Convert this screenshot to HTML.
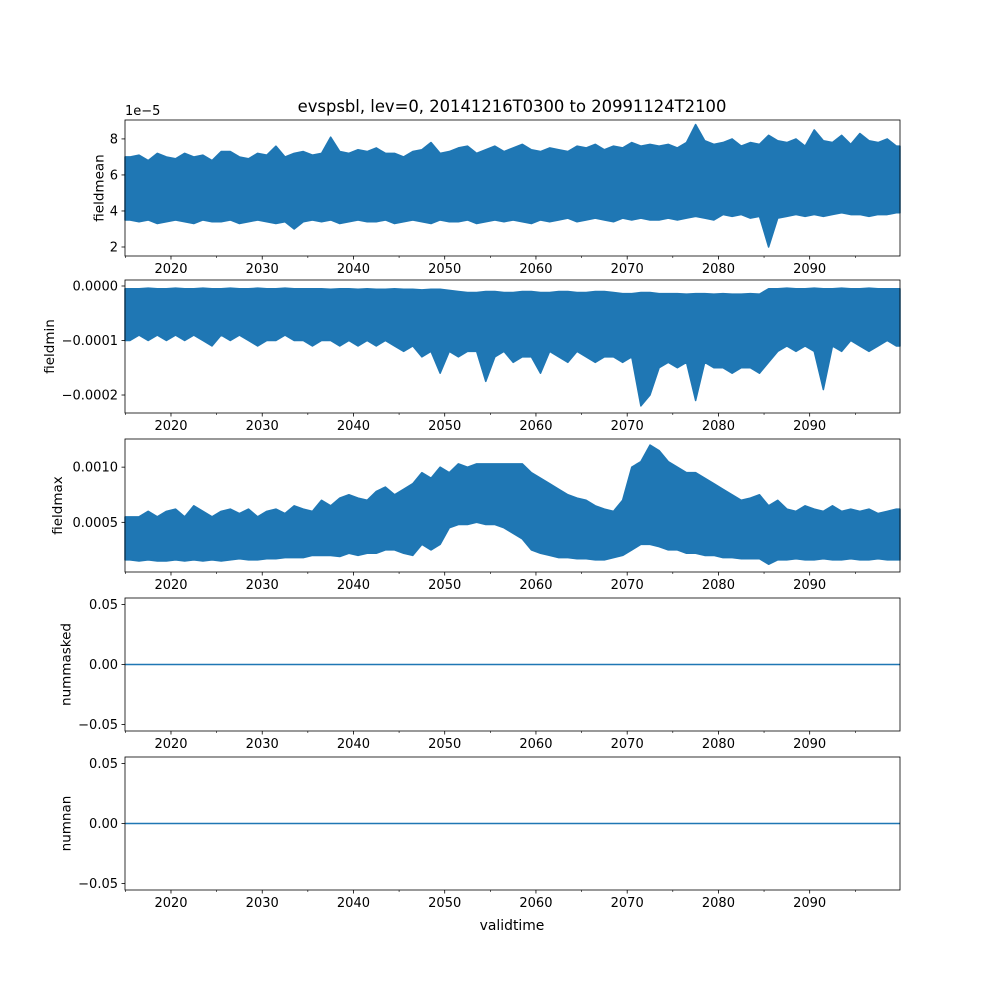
<!DOCTYPE html>
<html><head><meta charset="utf-8"><style>
html,body{margin:0;padding:0;background:#fff}
svg{display:block;font-family:"DejaVu Sans","Liberation Sans",sans-serif}
</style></head><body>
<svg id="fig" width="1000" height="1000" viewBox="0 0 1000 1000" xmlns="http://www.w3.org/2000/svg">
<rect width="1000" height="1000" fill="#fff"/>
<text x="512" y="112" text-anchor="middle" font-size="16.4">evspsbl, lev=0, 20141216T0300 to 20991124T2100</text>
<text x="512" y="930" text-anchor="middle" font-size="13.9">validtime</text>
</svg>
<script>
// years 2015..2099 (85 per-year bins)
const years = Array.from({length:85},(_,i)=>2015+i);
// fieldmean (x1e-5) upper / lower envelope
const meanHi = [7.0,7.1,6.8,7.2,7.0,6.9,7.2,7.0,7.1,6.8,
 7.3,7.3,7.0,6.9,7.2,7.1,7.6,7.0,7.2,7.3,
 7.1,7.2,8.1,7.3,7.2,7.4,7.3,7.5,7.2,7.2,
 7.0,7.3,7.4,7.8,7.2,7.3,7.5,7.6,7.2,7.4,
 7.6,7.3,7.5,7.7,7.4,7.3,7.5,7.4,7.3,7.6,
 7.5,7.7,7.4,7.6,7.5,7.8,7.6,7.7,7.6,7.7,
 7.5,7.8,8.8,7.9,7.7,7.8,8.0,7.6,7.8,7.7,
 8.2,7.9,7.8,8.0,7.6,8.5,7.9,7.8,8.2,7.7,
 8.3,7.9,7.8,8.0,7.6];
const meanLo = [3.5,3.4,3.5,3.3,3.4,3.5,3.4,3.3,3.5,3.4,
 3.4,3.5,3.3,3.4,3.5,3.4,3.3,3.4,3.0,3.4,
 3.5,3.4,3.5,3.3,3.4,3.5,3.4,3.4,3.5,3.3,
 3.4,3.5,3.4,3.3,3.5,3.4,3.4,3.5,3.3,3.4,
 3.5,3.4,3.5,3.4,3.3,3.5,3.4,3.5,3.6,3.4,
 3.5,3.6,3.5,3.4,3.6,3.5,3.6,3.5,3.5,3.6,
 3.5,3.6,3.7,3.6,3.5,3.8,3.7,3.8,3.6,3.7,
 2.0,3.6,3.7,3.8,3.7,3.8,3.7,3.8,3.9,3.8,
 3.8,3.7,3.8,3.8,3.9];
// fieldmin (x1e-4)
const minHi = [-0.05,-0.05,-0.04,-0.05,-0.05,-0.04,-0.05,-0.05,-0.04,-0.05,
 -0.05,-0.04,-0.05,-0.05,-0.04,-0.05,-0.05,-0.04,-0.05,-0.05,
 -0.05,-0.05,-0.06,-0.05,-0.05,-0.06,-0.05,-0.06,-0.06,-0.05,
 -0.06,-0.06,-0.07,-0.06,-0.06,-0.08,-0.10,-0.12,-0.12,-0.10,
 -0.10,-0.12,-0.12,-0.10,-0.10,-0.12,-0.12,-0.10,-0.10,-0.12,
 -0.12,-0.10,-0.10,-0.12,-0.14,-0.14,-0.12,-0.12,-0.14,-0.14,
 -0.14,-0.15,-0.14,-0.14,-0.15,-0.14,-0.15,-0.15,-0.14,-0.15,
 -0.05,-0.05,-0.04,-0.05,-0.05,-0.04,-0.05,-0.05,-0.04,-0.05,
 -0.05,-0.04,-0.05,-0.05,-0.05];
const minLo = [-1.0,-0.9,-1.0,-0.9,-1.0,-0.9,-1.0,-0.9,-1.0,-1.1,
 -0.9,-1.0,-0.9,-1.0,-1.1,-1.0,-1.0,-0.9,-1.0,-1.0,
 -1.1,-1.0,-1.0,-1.1,-1.0,-1.1,-1.0,-1.1,-1.0,-1.1,
 -1.2,-1.1,-1.3,-1.2,-1.6,-1.2,-1.3,-1.2,-1.2,-1.75,
 -1.3,-1.2,-1.4,-1.3,-1.3,-1.6,-1.2,-1.3,-1.4,-1.2,
 -1.3,-1.4,-1.3,-1.3,-1.4,-1.3,-2.2,-2.0,-1.5,-1.4,
 -1.5,-1.4,-2.1,-1.4,-1.5,-1.5,-1.6,-1.5,-1.5,-1.6,
 -1.4,-1.2,-1.1,-1.2,-1.1,-1.2,-1.9,-1.1,-1.2,-1.0,
 -1.1,-1.2,-1.1,-1.0,-1.1];
// fieldmax (x1e-3)
const maxHi = [0.55,0.55,0.60,0.55,0.60,0.62,0.55,0.65,0.60,0.55,
 0.60,0.62,0.58,0.62,0.55,0.60,0.62,0.58,0.65,0.62,
 0.60,0.70,0.65,0.72,0.75,0.72,0.70,0.78,0.82,0.75,
 0.80,0.85,0.95,0.90,1.00,0.95,1.03,1.00,1.03,1.03,
 1.03,1.03,1.03,1.03,0.95,0.90,0.85,0.80,0.75,0.72,
 0.70,0.65,0.62,0.60,0.70,1.00,1.05,1.20,1.15,1.05,
 1.00,0.95,0.95,0.90,0.85,0.80,0.75,0.70,0.72,0.75,
 0.65,0.70,0.62,0.60,0.65,0.62,0.60,0.65,0.60,0.62,
 0.60,0.62,0.58,0.60,0.62];
const maxLo = [0.16,0.15,0.16,0.15,0.15,0.16,0.15,0.16,0.15,0.16,
 0.15,0.16,0.17,0.16,0.16,0.17,0.17,0.18,0.18,0.18,
 0.20,0.20,0.20,0.19,0.22,0.20,0.22,0.22,0.25,0.25,
 0.22,0.20,0.30,0.25,0.30,0.45,0.48,0.48,0.50,0.48,
 0.48,0.45,0.40,0.35,0.25,0.22,0.20,0.18,0.18,0.17,
 0.17,0.16,0.16,0.18,0.20,0.25,0.30,0.30,0.28,0.25,
 0.25,0.22,0.22,0.20,0.20,0.18,0.18,0.17,0.17,0.17,
 0.12,0.16,0.16,0.17,0.16,0.16,0.17,0.16,0.16,0.17,
 0.16,0.16,0.17,0.16,0.16];
const xTicks = [2020,2030,2040,2050,2060,2070,2080,2090];
const xMinor = [2015,2025,2035,2045,2055,2065,2075,2085,2095];
const panels = [
 {name:'fieldmean', top:120, bot:256, ymin:1.5, ymax:9.05, ticks:[2,4,6,8], labels:['2','4','6','8'], hi:meanHi, lo:meanLo},
 {name:'fieldmin', top:280, bot:413, ymin:-2.33, ymax:0.11, ticks:[-2,-1,0], labels:['\u22120.0002','\u22120.0001','0.0000'], hi:minHi, lo:minLo},
 {name:'fieldmax', top:439, bot:572, ymin:0.05, ymax:1.255, ticks:[0.5,1.0], labels:['0.0005','0.0010'], hi:maxHi, lo:maxLo},
 {name:'nummasked', top:598, bot:731, ymin:-0.0555, ymax:0.0555, ticks:[-0.05,0,0.05], labels:['\u22120.05','0.00','0.05'], flat:0},
 {name:'numnan', top:757, bot:890, ymin:-0.0555, ymax:0.0555, ticks:[-0.05,0,0.05], labels:['\u22120.05','0.00','0.05'], flat:0}
];
const NS='http://www.w3.org/2000/svg';
const svg=document.getElementById('fig');
const L=125,R=900,X0=2014.96,X1=2099.9;
const xs=v=>L+(Math.min(X1,Math.max(X0,v))-X0)/(X1-X0)*(R-L);
function mk(t,a){const e=document.createElementNS(NS,t);for(const k in a)e.setAttribute(k,a[k]);return e;}
panels.forEach(p=>{
 const ys=v=>p.bot-(v-p.ymin)/(p.ymax-p.ymin)*(p.bot-p.top);
 const g=mk('g',{});
 
 
 svg.appendChild(g);
 if(p.hi){
  let pts=[xs(X0)+','+ys(p.hi[0])];
  years.forEach((y,i)=>{pts.push(xs(y+0.5)+','+ys(p.hi[i]));});
  pts.push(xs(X1)+','+ys(p.hi[years.length-1]));
  pts.push(xs(X1)+','+ys(p.lo[years.length-1]));
  for(let i=years.length-1;i>=0;i--){pts.push(xs(years[i]+0.5)+','+ys(p.lo[i]));}
  pts.push(xs(X0)+','+ys(p.lo[0]));
  const poly=mk('polygon',{points:pts.join(' '),fill:'#1f77b4',stroke:'#1f77b4','stroke-width':1.5,'stroke-linejoin':'round'});
  
  
  g.appendChild(poly);
 } else {
  const ln=mk('line',{x1:L,x2:R,y1:ys(p.flat),y2:ys(p.flat),stroke:'#1f77b4','stroke-width':1.5});
  
  
  g.appendChild(ln);
 }
 const fr=mk('rect',{x:L,y:p.top,width:R-L,height:p.bot-p.top,fill:'none',stroke:'#000','stroke-width':0.8});
 
 
 g.appendChild(fr);
 xTicks.forEach(t=>{
  g.appendChild(mk('line',{x1:xs(t),x2:xs(t),y1:p.bot,y2:p.bot+3.5,stroke:'#000','stroke-width':0.8}));
  const tx=mk('text',{x:xs(t),y:p.bot+17,'text-anchor':'middle','font-size':13});
  
  
  tx.textContent=t;g.appendChild(tx);
 });
 xMinor.forEach(t=>g.appendChild(mk('line',{x1:xs(t),x2:xs(t),y1:p.bot,y2:p.bot+2,stroke:'#000','stroke-width':0.6})));
 p.ticks.forEach((t,i)=>{
  g.appendChild(mk('line',{x1:L-3.5,x2:L,y1:ys(t),y2:ys(t),stroke:'#000','stroke-width':0.8}));
  const tx=mk('text',{x:L-7,y:ys(t)+4.5,'text-anchor':'end','font-size':13});
  
  
  tx.textContent=p.labels[i];g.appendChild(tx);
 });
 let maxw=Math.max(...p.labels.map(s=>s.length))*8.3;
 const yl=mk('text',{transform:`translate(${L-13-maxw},${(p.top+p.bot)/2}) rotate(-90)`,'text-anchor':'middle','font-size':13.5});
 
 
 yl.textContent=p.name;g.appendChild(yl);
});
const off=mk('text',{x:125,y:115,'font-size':13});


off.textContent='1e\u22125';svg.appendChild(off);
</script>
</body></html>
